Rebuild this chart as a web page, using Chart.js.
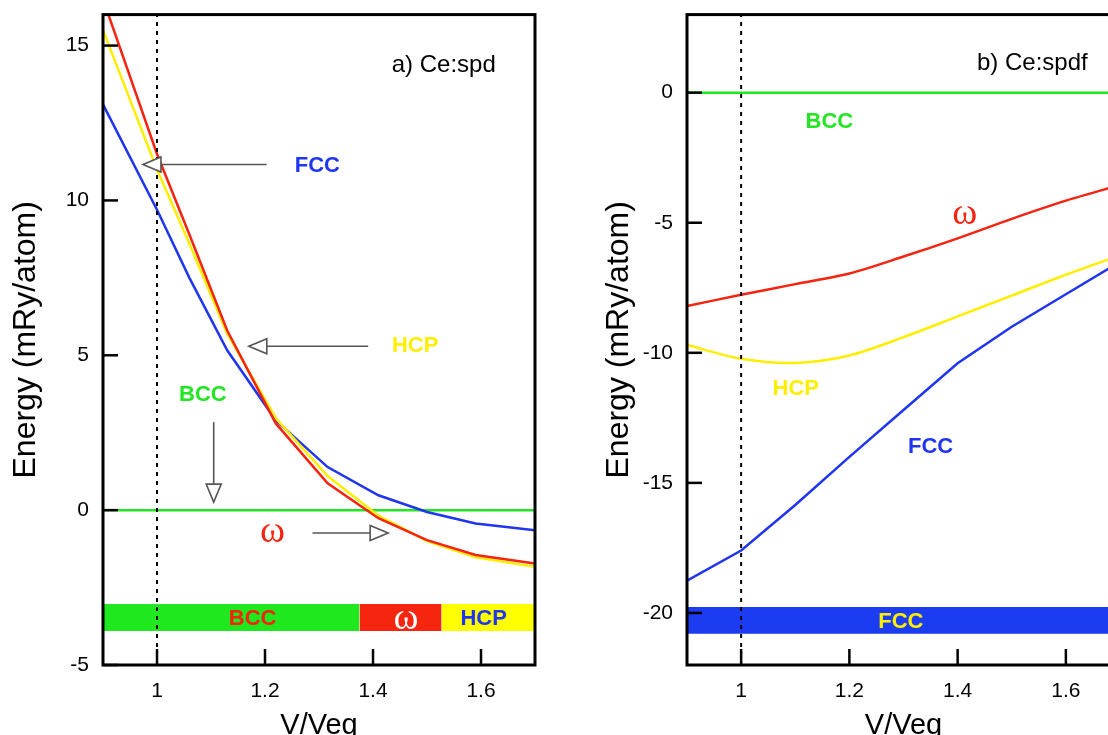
<!DOCTYPE html>
<html>
<head>
<meta charset="utf-8">
<script src="https://cdn.jsdelivr.net/npm/chart.js@4.4.1/dist/chart.umd.min.js"></script>
<style>
    html, body { margin: 0; padding: 0; background: #fff; }
    body { width: 1108px; height: 735px; overflow: hidden; position: relative; }
    .panel { position: absolute; top: -12px; height: 763px; }
    #panelA { left: 0; width: 560px; }
    #panelB { left: 580px; width: 565px; }
</style>
</head>
<body>
<div class="panel" id="panelA"><canvas id="chartA"></canvas></div>
<div class="panel" id="panelB"><canvas id="chartB"></canvas></div>
<script>
// Panel a) Ce:spd
const volA = [0.9, 1.0, 1.06, 1.13, 1.22, 1.316, 1.41, 1.5, 1.59, 1.7];
const fccA = [13.1, 9.7, 7.5, 5.16, 2.9, 1.39, 0.48, -0.06, -0.43, -0.65];
const hcpA = [15.5, 11.0, 8.6, 5.7, 2.97, 1.1, -0.18, -1.0, -1.52, -1.83];
const omegaA = [16.5, 11.5, 8.9, 5.8, 2.8, 0.87, -0.26, -0.97, -1.45, -1.72];
const bccA = [0, 0, 0, 0, 0, 0, 0, 0, 0, 0];
const yTicksA = [-5, 0, 5, 10, 15];
const bandEdgesA = [0.9, 1.375, 1.527, 1.7];
const bandColorsA = ['#1fe81f', '#f5250f', '#ffff00'];

// Panel b) Ce:spdf
const volB = [0.9, 1.0, 1.1, 1.2, 1.3, 1.4, 1.5, 1.6, 1.7];
const fccB = [-18.76, -17.6, -15.85, -14.0, -12.2, -10.4, -9.0, -7.75, -6.5];
const hcpB = [-9.7, -10.23, -10.39, -10.1, -9.4, -8.6, -7.8, -7.0, -6.25];
const omegaB = [-8.2, -7.77, -7.36, -6.95, -6.3, -5.6, -4.85, -4.15, -3.55];
const bccB = [0, 0, 0, 0, 0, 0, 0, 0, 0];
const yTicksB = [-20, -15, -10, -5, 0];
const bandEdgesB = [0.9, 1.7];
const bandColorsB = ['#1c3cf2'];

const xTicks = [1, 1.2, 1.4, 1.6];

const RED = '#f5230f';
const BLUE = '#1f35f0';
const YELLOW = '#ffee00';
const GREEN = '#22e622';

const pts = (xs, ys) => xs.map((x, i) => ({ x: x, y: ys[i] }));

function curve(xs, ys, color, tension) {
    return {
        data: pts(xs, ys),
        borderColor: color,
        borderWidth: 2.5,
        pointRadius: 0,
        tension: tension || 0,
        fill: false
    };
}

function dottedLine(yMin, yMax) {
    return {
        data: [{ x: 1, y: yMin }, { x: 1, y: yMax }],
        borderColor: '#000',
        borderWidth: 2,
        borderDash: [4, 5],
        pointRadius: 0,
        fill: false
    };
}

function bands(edges, colors, top, bottom) {
    return colors.map((c, i) => ({
        data: [{ x: edges[i], y: bottom }, { x: edges[i + 1], y: bottom }],
        borderWidth: 0,
        borderColor: c,
        backgroundColor: c,
        pointRadius: 0,
        fill: { value: top }
    }));
}

// Cadre, graduations intérieures, textes et flèches
const framePlugin = {
    id: 'notes',
    afterDatasetsDraw(chart, args, opts) {
        const ctx = chart.ctx;
        const area = chart.chartArea;
        const xs = chart.scales.x;
        const ys = chart.scales.y;
        ctx.save();

        ctx.strokeStyle = '#000';
        ctx.lineWidth = 3;
        ctx.strokeRect(area.left, area.top, area.right - area.left, area.bottom - area.top);
        ctx.lineWidth = 2.5;
        ys.ticks.forEach(t => {
            const py = ys.getPixelForValue(t.value);
            ctx.beginPath();
            ctx.moveTo(area.left, py);
            ctx.lineTo(area.left + 15, py);
            ctx.stroke();
        });
        xs.ticks.forEach(t => {
            const px = xs.getPixelForValue(t.value);
            ctx.beginPath();
            ctx.moveTo(px, area.bottom);
            ctx.lineTo(px, area.bottom - 16);
            ctx.stroke();
        });

        (opts.arrows || []).forEach(a => {
            const x0 = xs.getPixelForValue(a[0]), y0 = ys.getPixelForValue(a[1]);
            const x1 = xs.getPixelForValue(a[2]), y1 = ys.getPixelForValue(a[3]);
            const ang = Math.atan2(y1 - y0, x1 - x0);
            const len = 18, half = 7.5;
            const bx = x1 - len * Math.cos(ang), by = y1 - len * Math.sin(ang);
            ctx.strokeStyle = '#555';
            ctx.lineWidth = 1.6;
            ctx.beginPath();
            ctx.moveTo(x0, y0);
            ctx.lineTo(bx, by);
            ctx.stroke();
            ctx.beginPath();
            ctx.moveTo(x1, y1);
            ctx.lineTo(bx - half * Math.sin(ang), by + half * Math.cos(ang));
            ctx.lineTo(bx + half * Math.sin(ang), by - half * Math.cos(ang));
            ctx.closePath();
            ctx.fillStyle = '#fff';
            ctx.fill();
            ctx.stroke();
        });

        ctx.textAlign = 'center';
        ctx.textBaseline = 'middle';
        (opts.texts || []).forEach(t => {
            ctx.font = t.font;
            ctx.fillStyle = t.color;
            ctx.fillText(t.text, xs.getPixelForValue(t.x), ys.getPixelForValue(t.y));
        });
        ctx.restore();
    }
};

const BOLD = 'bold 22px "Liberation Sans", Arial, sans-serif';
const PLAIN = '24px "Liberation Sans", Arial, sans-serif';
const OMEGA = '38px "Liberation Serif", "Times New Roman", serif';

function axes(yMin, yMax, yTicks, yWidth, yTitlePad) {
    return {
        x: {
            type: 'linear',
            min: 0.9,
            max: 1.7,
            afterBuildTicks: s => { s.ticks = xTicks.map(v => ({ value: v })); },
            afterFit: s => { s.height = 86; },
            grid: { display: false, drawTicks: false },
            border: { display: false },
            ticks: {
                color: '#000',
                padding: 14,
                font: { family: '"Liberation Sans", Arial, sans-serif', size: 21 },
                callback: v => String(v)
            },
            title: {
                display: true,
                text: 'V/Veq',
                color: '#000',
                padding: { bottom: 8 },
                font: { family: '"Liberation Sans", Arial, sans-serif', size: 29 }
            }
        },
        y: {
            type: 'linear',
            min: yMin,
            max: yMax,
            afterBuildTicks: s => { s.ticks = yTicks.map(v => ({ value: v })); },
            afterFit: s => { s.width = yWidth; },
            grid: { display: false, drawTicks: false },
            border: { display: false },
            ticks: {
                color: '#000',
                padding: 14,
                font: { family: '"Liberation Sans", Arial, sans-serif', size: 21 },
                callback: v => String(v)
            },
            title: {
                display: true,
                text: 'Energy (mRy/atom)',
                color: '#000',
                padding: { top: yTitlePad },
                font: { family: '"Liberation Sans", Arial, sans-serif', size: 32 }
            }
        }
    };
}

const chartA = new Chart(document.getElementById('chartA'), {
    type: 'line',
    data: {
        datasets: [
            dottedLine(-5, 16),
            curve(volA, omegaA, RED),
            curve(volA, hcpA, YELLOW),
            curve(volA, fccA, BLUE),
            curve(volA, bccA, GREEN),
            ...bands(bandEdgesA, bandColorsA, -3.03, -3.9)
        ]
    },
    options: {
        responsive: true,
        maintainAspectRatio: false,
        animation: false,
        layout: { padding: { top: 3, right: 25, left: 0, bottom: 0 } },
        scales: axes(-5, 16, yTicksA, 103, 7),
        plugins: {
            legend: { display: false },
            tooltip: { enabled: false },
            notes: {
                texts: [
                    { x: 1.531, y: 14.35, text: 'a) Ce:spd', color: '#000', font: PLAIN },
                    { x: 1.297, y: 11.1, text: 'FCC', color: BLUE, font: BOLD },
                    { x: 1.478, y: 5.29, text: 'HCP', color: YELLOW, font: BOLD },
                    { x: 1.085, y: 3.71, text: 'BCC', color: GREEN, font: BOLD },
                    { x: 1.214, y: -0.71, text: 'ω', color: RED, font: OMEGA },
                    { x: 1.177, y: -3.5, text: 'BCC', color: RED, font: BOLD },
                    { x: 1.461, y: -3.5, text: 'ω', color: '#fff', font: OMEGA },
                    { x: 1.605, y: -3.5, text: 'HCP', color: BLUE, font: BOLD }
                ],
                arrows: [
                    [1.203, 11.16, 0.974, 11.16],
                    [1.391, 5.29, 1.170, 5.29],
                    [1.105, 2.84, 1.105, 0.26],
                    [1.288, -0.74, 1.428, -0.74]
                ]
            }
        }
    },
    plugins: [framePlugin]
});

const chartB = new Chart(document.getElementById('chartB'), {
    type: 'line',
    data: {
        datasets: [
            dottedLine(-22, 3),
            curve(volB, omegaB, RED, 0.3),
            curve(volB, hcpB, YELLOW, 0.3),
            curve(volB, fccB, BLUE),
            curve(volB, bccB, GREEN),
            ...bands(bandEdgesB, bandColorsB, -19.77, -20.8)
        ]
    },
    options: {
        responsive: true,
        maintainAspectRatio: false,
        animation: false,
        layout: { padding: { top: 3, right: 25, left: 0, bottom: 0 } },
        scales: axes(-22, 3, yTicksB, 107, 20),
        plugins: {
            legend: { display: false },
            tooltip: { enabled: false },
            notes: {
                texts: [
                    { x: 1.538, y: 1.12, text: 'b) Ce:spdf', color: '#000', font: PLAIN },
                    { x: 1.163, y: -1.12, text: 'BCC', color: GREEN, font: BOLD },
                    { x: 1.413, y: -4.67, text: 'ω', color: RED, font: OMEGA },
                    { x: 1.101, y: -11.39, text: 'HCP', color: YELLOW, font: BOLD },
                    { x: 1.350, y: -13.63, text: 'FCC', color: BLUE, font: BOLD },
                    { x: 1.295, y: -20.35, text: 'FCC', color: YELLOW, font: BOLD }
                ]
            }
        }
    },
    plugins: [framePlugin]
});
</script>
</body>
</html>
